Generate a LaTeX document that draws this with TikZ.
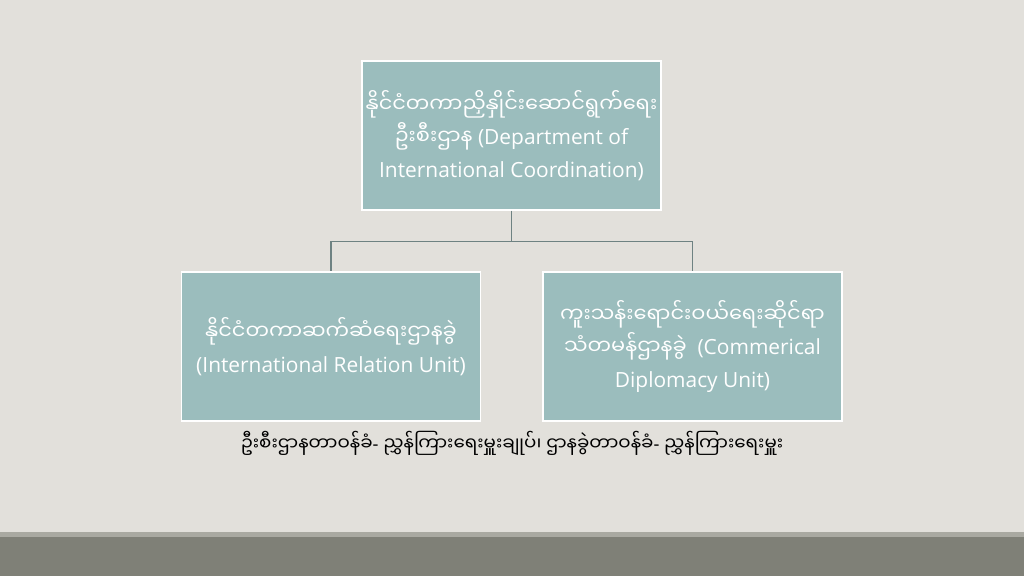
\documentclass[tikz,border=0pt]{standalone}
\usepackage{fontspec}
\setmainfont{Open Sans}
\newfontfamily\mya[Script=Myanmar]{Noto Sans Myanmar UI}

\definecolor{slidebg}{HTML}{E2E0DB}
\definecolor{boxfill}{HTML}{9BBDBD}
\definecolor{linkcol}{HTML}{6E8282}
\definecolor{footdark}{HTML}{7F8077}
\definecolor{footlight}{HTML}{A9A9A1}

\tikzset{
  unitbox/.style={draw=white, line width=0.8pt, fill=boxfill, text=white,
    minimum width=5.98cm, minimum height=2.98cm, inner sep=0pt,
    align=center, font=\fontsize{11.9}{18.6}\selectfont},
  link/.style={draw=linkcol, line width=0.9pt},
  note/.style={text=black, font=\fontsize{10.4}{12}\selectfont}
}

\begin{document}
\begin{tikzpicture}

    % Slide background and footer band
    \fill[slidebg] (0,0) rectangle (20.48,11.52);
    \fill[footlight] (0,0) rectangle (20.48,0.88);
    \fill[footdark] (0,0) rectangle (20.48,0.78);

    % Department and its two units
    \node[unitbox] (dept) at (10.23,8.81) {{\mya နိုင်ငံတကာညှိနှိုင်းဆောင်ရွက်ရေး}\\{\mya ဦးစီးဌာန} (Department of\\International Coordination)};
    \node[unitbox] (iru) at (6.62,4.59) {{\mya နိုင်ငံတကာဆက်ဆံရေးဌာနခွဲ}\\(International Relation Unit)};
    \node[unitbox] (cdu) at (13.85,4.59) {{\mya ကူးသန်းရောင်းဝယ်ရေးဆိုင်ရာ}\\{\mya သံတမန်ဌာနခွဲ}~ (Commerical\\Diplomacy Unit)};

    % Connectors
    \path (dept.south) ++(0,-0.62) coordinate (junc);
    \draw[link] (dept.south) -- (junc);
    \draw[link] (junc) -| (iru.north);
    \draw[link] (junc) -| (cdu.north);

    % Note under the boxes
    \node[note] (head) at (10.24,2.66) {{\mya ဦးစီးဌာနတာဝန်ခံ}- {\mya ညွှန်ကြားရေးမှူးချုပ်၊ ဌာနခွဲတာဝန်ခံ}- {\mya ညွှန်ကြားရေးမှူး}};

\end{tikzpicture}
\end{document}
